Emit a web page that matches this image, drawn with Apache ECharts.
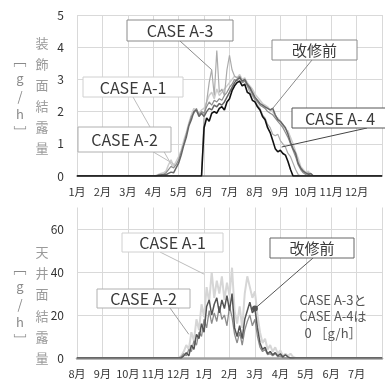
<!DOCTYPE html>
<html><head><meta charset="utf-8">
<script src="https://cdn.jsdelivr.net/npm/echarts@6/dist/echarts.min.js"></script>
<style>html,body{margin:0;padding:0;background:#fff}#c{width:385px;height:383px}</style>
</head><body><div id="c"></div>
<script>
// ---- tick labels ----
const topMonths = ['1月','2月','3月','4月','5月','6月','7月','8月','9月','10月','11月','12月'];
const botMonths = ['8月','9月','10月','11月','12月','1月','2月','3月','4月','5月','6月','7月'];

// ---- top chart: 装飾面結露量 [g/h], x in months from 1月 ----
const topT = [0,
 3.0,3.1,3.2,3.3,3.4,3.5,3.6,3.7,3.8,3.9,
 4.0,4.1,4.2,4.3,4.4,4.5,4.6,4.7,4.8,4.9,
 5.0,5.1,5.2,5.3,5.4,5.5,5.6,5.7,5.8,5.9,
 6.0,6.1,6.2,6.3,6.4,6.5,6.6,6.7,6.8,6.9,
 7.0,7.1,7.2,7.3,7.4,7.5,7.6,7.7,7.8,7.9,
 8.0,8.1,8.2,8.3,8.4,8.5,8.6,8.7,8.8,8.9,
 9.0,9.1,9.2,9.3,9.4,
 12];
const topKaishu = [0,
 0,0,0.02,0.03,0.05,0.04,0.08,0.12,0.1,0.25,
 0.4,0.65,0.95,1.2,1.55,1.75,2.0,2.05,1.85,1.95,
 1.85,2.0,2.1,2.05,2.2,2.15,2.25,2.2,2.3,2.45,
 2.6,2.75,2.9,3.0,3.05,2.95,3.0,2.85,2.75,2.6,
 2.45,2.35,2.25,2.2,2.15,2.1,2.05,2.1,1.9,1.75,
 1.7,1.6,1.5,1.3,1.05,0.85,0.7,0.4,0.25,0.15,
 0.1,0.05,0.08,0,0,
 0];
const topA1 = [0,
 0,0.02,0.05,0.08,0.1,0.15,0.35,0.5,0.3,0.45,
 0.6,0.8,1.1,1.35,1.65,1.9,2.1,2.0,1.95,2.05,
 2.1,2.3,2.5,2.6,2.4,2.7,2.5,2.6,2.7,2.8,
 2.9,3.0,3.1,3.05,3.15,3.0,3.05,2.9,2.8,2.7,
 2.55,2.45,2.35,2.25,2.2,2.15,2.05,2.0,1.85,1.8,
 1.7,1.55,1.45,1.4,1.2,1.0,0.75,0.55,0.3,0.2,
 0.1,0.15,0.05,0,0,
 0];
const topA2 = [0,
 0,0,0.03,0.05,0.04,0.1,0.2,0.3,0.25,0.35,
 0.5,0.75,1.0,1.3,1.6,1.85,1.95,2.1,1.9,2.0,
 1.95,2.15,2.3,2.2,2.35,2.3,2.4,2.35,2.5,2.6,
 2.75,2.85,3.0,2.95,3.1,2.9,2.95,2.8,2.7,2.55,
 2.4,2.3,2.2,2.15,2.1,2.0,1.95,1.9,1.8,1.7,
 1.6,1.5,1.35,1.2,1.0,0.8,0.6,0.35,0.2,0.1,
 0.05,0.1,0,0,0,
 0];
const topA3 = [0,
 0,0,0,0,0,0,0,0,0,0,
 0,0,0,0,0,0,0,0,0,0,
 1.9,2.3,2.9,3.3,2.5,3.9,2.6,2.7,2.5,3.3,
 3.75,3.3,3.1,3.05,3.1,2.9,2.95,2.8,2.6,2.5,
 2.35,2.2,2.1,1.9,1.8,1.6,1.5,1.3,1.25,1.3,
 1.1,1.0,0.9,0.7,0.6,0.4,0.2,0.05,0,0,
 0,0,0,0,0,
 0];
const topA4 = [0,
 0,0,0,0,0,0,0,0,0,0,
 0,0,0,0,0,0,0,0,0,0,
 1.5,1.8,1.7,1.95,2.0,1.95,2.1,2.15,2.05,2.3,
 2.4,2.65,2.8,2.9,2.95,2.8,2.85,2.6,2.55,2.35,
 2.3,2.15,2.05,1.85,1.75,1.5,1.35,1.1,0.85,0.75,
 0.8,0.7,0.65,0.45,0.2,0,0,0,0,0,
 0,0,0,0,0,
 0];

// ---- bottom chart: 天井面結露量 [g/h], x in months from 8月 ----
const botT = [0,
 4.0,4.1,4.2,4.3,4.4,4.5,4.6,4.7,4.8,4.9,
 5.0,5.1,5.2,5.3,5.4,5.5,5.6,5.7,5.8,5.9,
 6.0,6.1,6.2,6.3,6.4,6.5,6.6,6.7,6.8,6.9,
 7.0,7.1,7.2,7.3,7.4,7.5,7.6,7.7,7.8,7.9,
 8.0,8.1,8.2,8.3,8.4,8.5,8.6,
 12];
const botKaishu = [0,
 0,0,1,2.5,1,6,4,11,9,16,
 12,24,27,20,25,28,21,27,23,29,
 22,30,14,10,15,9,18,22,26,21,
 23,14,7,4,5,2,3,1.5,2.5,1,
 2,0.5,1.5,0.5,0,0,0,
 0];
const botA1 = [0,
 0,1,3,6,4,12,8,18,13,25,
 19,33,26,40,28,36,30,38,27,35,
 29,42,22,16,24,14,30,38,33,28,
 31,20,12,7,9,4,6,3,5,2,
 3.5,1,2,1,2,0.5,0,
 0];
const botA2 = [0,
 0,0.5,2,1,4,3,8,6,12,10,
 18,14,22,16,21,17,24,18,20,15,
 24,19,11,7,12,6,13,17,20,15,
 18,10,5,3,4,1.5,2,1,2,0.5,
 1,0,0,0,0,0,0,
 0];

const pairs = (xs, ys) => xs.map((x, i) => [x, ys[i]]);
const FONT = '"Noto Sans CJK JP", "Noto Sans", sans-serif';

const chart = echarts.init(document.getElementById('c'), null, {renderer: 'canvas'});

function xAxisCfg(grid, labels, lineColor, lineWidth) {
  return {
    gridIndex: grid, type: 'value', min: 0, max: 12, interval: 1,
    axisLine: {lineStyle: {color: lineColor, width: lineWidth}},
    axisTick: {show: false},
    splitLine: {show: true, lineStyle: {color: '#d9d9d9', width: 1}},
    axisLabel: {formatter: v => labels[v] || '', color: '#333', fontSize: 11, margin: 10, fontFamily: FONT}
  };
}
function yAxisCfg(grid, max, interval) {
  return {
    gridIndex: grid, type: 'value', min: 0, max: max, interval: interval,
    axisLine: {show: false}, axisTick: {show: false},
    splitLine: {show: true, showMaxLine: max === 5, lineStyle: {color: '#d9d9d9', width: 1}},
    axisLabel: {color: '#333', fontSize: 12, margin: 13, fontFamily: FONT, showMaxLabel: max === 5}
  };
}
function line(name, xi, yi, xs, ys, color, width) {
  return {name, type: 'line', xAxisIndex: xi, yAxisIndex: yi, data: pairs(xs, ys),
    showSymbol: false, symbol: 'none', lineStyle: {color, width}, silent: true};
}

chart.setOption({
  animation: false,
  grid: [
    {left: 77, top: 15, width: 306, height: 161},
    {left: 77, top: 207.5, width: 306, height: 150.5}
  ],
  xAxis: [xAxisCfg(0, topMonths, '#6f6f6f', 1.5), xAxisCfg(1, botMonths, '#a0a0a0', 2.5)],
  yAxis: [yAxisCfg(0, 5, 1), yAxisCfg(1, 70, 20)],
  series: [
    line('CASE A-1', 0, 0, topT, topA1, '#cccccc', 1.5),
    line('CASE A-3', 0, 0, topT, topA3, '#ababab', 1.2),
    line('CASE A-2', 0, 0, topT, topA2, '#8e8e8e', 1.2),
    line('改修前', 0, 0, topT, topKaishu, '#666666', 1.5),
    line('CASE A-4', 0, 0, topT, topA4, '#111111', 1.6),
    line('CASE A-1', 1, 1, botT, botA1, '#d6d6d6', 2),
    line('CASE A-2', 1, 1, botT, botA2, '#8c8c8c', 1.3),
    line('改修前', 1, 1, botT, botKaishu, '#555555', 1.5)
  ]
});

// annotation anchors in data coordinates
const P = (g, pt) => chart.convertToPixel({gridIndex: g}, pt);
const a3 = P(0, [5.3, 3.3]);
const a1 = P(0, [3.75, 0.3]);
const a2 = P(0, [3.85, 0.35]);
const kTop = P(0, [7.7, 2.1]);
const a4 = P(0, [8.05, 0.9]);
const bA1 = P(1, [5.0, 39]);
const bA2 = P(1, [4.4, 11]);
const bK = P(1, [7.0, 23]);

function leader(x1, y1, p, c) {
  return {type: 'line', z: 100, silent: true, shape: {x1, y1, x2: p[0], y2: p[1]}, style: {stroke: c || '#8a8a8a', lineWidth: 1}};
}
function box(x, y, w, h, text, fs, edge) {
  return [
    {type: 'rect', z: 101, silent: true, shape: {x, y, width: w, height: h}, style: {fill: '#fff', stroke: edge || '#8a8a8a', lineWidth: 1}},
    {type: 'text', z: 102, silent: true, style: {text, x: x + w / 2, y: y + h / 2 + 0.5, align: 'center', verticalAlign: 'middle', textAlign: 'center', textVerticalAlign: 'middle', font: (fs || 16) + 'px ' + FONT, fill: '#3a3a3a'}}
  ];
}
function vtext(x, yc, text, lh, fs, col) {
  return {type: 'text', z: 102, silent: true, style: {text, x, y: yc, align: 'center', verticalAlign: 'middle', textAlign: 'center', textVerticalAlign: 'middle', lineHeight: lh, font: fs + 'px ' + FONT, fill: col}};
}

const g = [];
g.push(leader(180, 41, a3), leader(133, 97, a1, '#bdbdbd'), leader(150, 150, a2, '#bdbdbd'), leader(312, 60, kTop), leader(367, 128, a4, '#444'));
g.push(leader(160, 252, bA1, '#bdbdbd'), leader(170, 308, bA2, '#a0a0a0'), leader(313, 258, bK, '#555'));
g.push({type: 'circle', z: 101, silent: true, shape: {cx: bK[0], cy: bK[1], r: 3}, style: {fill: '#555'}});
g.push(...box(127, 20, 106, 21, 'CASE A-3', 16, '#8a8a8a'));
g.push(...box(83, 77, 100, 20, 'CASE A-1', 16, '#d0d0d0'));
g.push(...box(78, 127, 93, 25, 'CASE A-2', 16, '#b0b0b0'));
g.push(...box(272, 40, 85, 20, '改修前', 15, '#8a8a8a'));
g.push(...box(292, 108, 96, 20, 'CASE A- 4', 16, '#555'));
g.push(...box(122, 233, 101, 19, 'CASE A-1', 16, '#d0d0d0'));
g.push(...box(97, 289, 93, 19, 'CASE A-2', 16, '#b0b0b0'));
g.push(...box(270, 238, 84, 20, '改修前', 15, '#666'));
g.push({type: 'text', z: 102, silent: true, style: {text: 'CASE A-3と\nCASE A-4は\n0 ［g/h］', x: 333, y: 316.5, align: 'center', verticalAlign: 'middle', textAlign: 'center', textVerticalAlign: 'middle', lineHeight: 16.5, font: '13px ' + FONT, fill: '#555'}});
g.push(vtext(42, 95.5, '装\n飾\n面\n結\n露\n量', 21, 13, '#9a9a9a'));
g.push(vtext(20, 96, '﹇\ng\n/\nh\n﹈', 18, 13, '#8a8a8a'));
g.push(vtext(42, 305, '天\n井\n面\n結\n露\n量', 21.2, 13, '#9a9a9a'));
g.push(vtext(20, 304, '﹇\ng\n/\nh\n﹈', 18, 13, '#8a8a8a'));
chart.setOption({graphic: {elements: g}});
</script>
</body></html>
